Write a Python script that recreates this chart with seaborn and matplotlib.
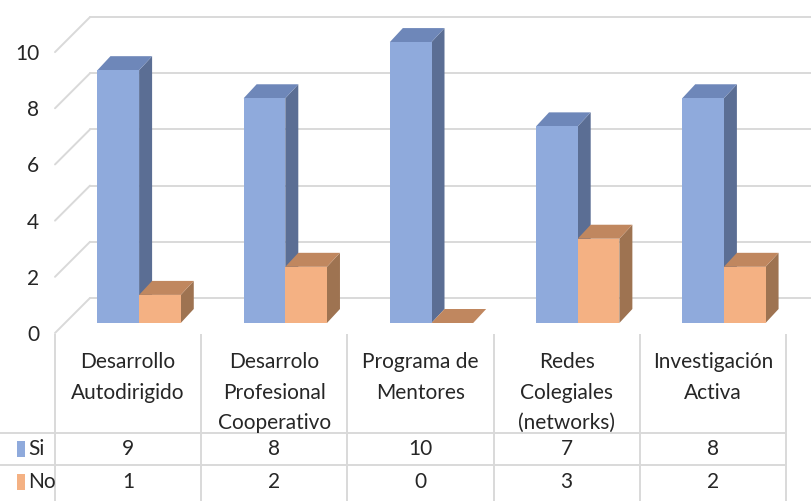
import matplotlib
matplotlib.use("Agg")
import matplotlib.pyplot as plt
import matplotlib.transforms as mtransforms
from matplotlib.patches import Polygon
import pandas as pd
import seaborn as sns

# data
categories = ["Desarrollo\nAutodirigido", "Desarrolo\nProfesional\nCooperativo",
              "Programa de\nMentores", "Redes\nColegiales\n(networks)", "Investigación\nActiva"]
series = ["Si", "No"]
si_values = [9, 8, 10, 7, 8]
no_values = [1, 2, 0, 3, 2]

front_cols = {"Si": "#8FAADC", "No": "#F4B183"}
side_cols = {"Si": "#5B6E94", "No": "#9E7351"}
top_cols = {"Si": "#6E87B9", "No": "#C0875F"}
grid_col = "#D9D9D9"
txt_col = "#262626"
fs = 15

sns.set_style("white")
plt.rcParams["font.family"] = ["Lato", "DejaVu Sans"]

W, H = 811, 501
fig = plt.figure(figsize=(W / 100, H / 100), dpi=100)
ax = fig.add_axes([55 / W, 168 / H, 731 / W, 309 / H])


def px(dx, dy):
    # shift in pixels (fig dpi = 100)
    return mtransforms.ScaledTranslation(dx / 100, dy / 100, fig.dpi_scale_trans)


df = pd.DataFrame({
    "cat": categories * 2,
    "serie": ["Si"] * len(si_values) + ["No"] * len(no_values),
    "val": si_values + no_values,
})

sns.barplot(data=df, x="cat", y="val", hue="serie", hue_order=series,
            palette=[front_cols[s] for s in series], width=0.57, saturation=1,
            errorbar=None, linewidth=0, legend=False, ax=ax, zorder=3)

ax.set_xlim(-0.5, 4.5)
ax.set_ylim(0, 11)
ax.set_xticks([])
ax.set_yticks(range(0, 11, 2))
ax.tick_params(axis="y", length=0, pad=11.5, labelsize=fs, labelcolor=txt_col)
ax.set_xlabel("")
ax.set_ylabel("")
for s in ax.spines.values():
    s.set_visible(False)

# back wall and side wall grid
wall = (35, 35)
for v in range(0, 11, 2):
    ax.plot([-0.5, 6], [v, v], transform=ax.transData + px(*wall), color=grid_col,
            lw=1.4, clip_on=False, zorder=1)
    ax.annotate("", xy=(-0.5, v), xytext=wall, textcoords="offset pixels",
                annotation_clip=False,
                arrowprops=dict(arrowstyle="-", color=grid_col, lw=1.4, shrinkA=0, shrinkB=0))

# fake 3d: push bars back a bit and add side/top faces
plane = px(11, 10)
dep = (13, 14)
ident = mtransforms.IdentityTransform()
bars = list(ax.patches)
for p in bars:
    p.set_transform(ax.transData + plane)
    fc = matplotlib.colors.to_hex(p.get_facecolor())
    key = "Si" if fc.lower() == front_cols["Si"].lower() else "No"
    vs = p.get_verts()
    x0, x1 = vs[:, 0].min(), vs[:, 0].max()
    y0, y1 = vs[:, 1].min(), vs[:, 1].max()
    side = Polygon([(x1, y0), (x1 + dep[0], y0 + dep[1]), (x1 + dep[0], y1 + dep[1]), (x1, y1)],
                   closed=True, transform=ident, facecolor=side_cols[key], lw=0,
                   zorder=2.5, clip_on=False)
    top = Polygon([(x0, y1), (x1, y1), (x1 + dep[0], y1 + dep[1]), (x0 + dep[0], y1 + dep[1])],
                  closed=True, transform=ident, facecolor=top_cols[key], lw=0,
                  zorder=2.5, clip_on=False)
    ax.add_patch(side)
    ax.add_patch(top)

# data table under the chart
tab = fig.add_axes([55 / W, 0, 731 / W, 168 / H])
tab.set_xlim(-0.5, 4.5)
tab.set_ylim(168, 0)
tab.axis("off")

cat_px = 731 / len(categories)
left = -0.5 - 55 / cat_px
tab.vlines([i - 0.5 for i in range(len(categories) + 1)], 1, 168, color=grid_col, lw=1.4, clip_on=False)
tab.hlines([100, 132], left, 4.5, color=grid_col, lw=1.4, clip_on=False)

for i, lab in enumerate(categories):
    tab.text(i, 19, lab, ha="center", va="top", fontsize=fs, linespacing=1.66, color=txt_col)
    tab.text(i, 116, str(si_values[i]), ha="center", va="center", fontsize=fs, color=txt_col)
    tab.text(i, 149, str(no_values[i]), ha="center", va="center", fontsize=fs, color=txt_col)

rect_marker = [(-1, -2), (1, -2), (1, 2), (-1, 2), (-1, -2)]
for s, yy in zip(series, [116, 149]):
    tab.plot(-0.5, yy, marker=rect_marker, ms=11, color=front_cols[s], mew=0,
             transform=tab.transData + px(-34, 0), clip_on=False)
    tab.annotate(s, xy=(-0.5, yy), xytext=(-27, 0), textcoords="offset pixels",
                 ha="left", va="center", fontsize=fs, color=txt_col, annotation_clip=False)

fig.savefig("out.png", dpi=100)
